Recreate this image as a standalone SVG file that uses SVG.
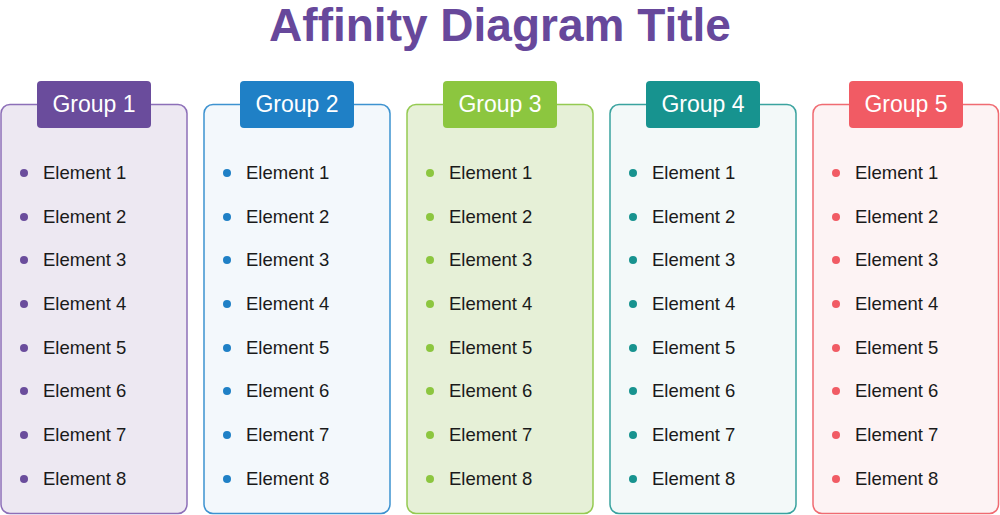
<svg xmlns="http://www.w3.org/2000/svg" width="1000" height="515" viewBox="0 0 1000 515">
<style>
.title{font-family:"Liberation Sans",Arial,sans-serif;font-weight:bold;font-size:46px;fill:#67489b;text-anchor:middle}
.gt{font-family:"Liberation Sans",Arial,sans-serif;font-size:23px;fill:#ffffff;text-anchor:middle}
.el{font-family:"Liberation Sans",Arial,sans-serif;font-size:18.5px;fill:#1a1a1a}
.panel{stroke-width:1.5}
</style>
<defs>
<g id="items">
<text class="el" x="42" y="179">Element 1</text>
<text class="el" x="42" y="223">Element 2</text>
<text class="el" x="42" y="266">Element 3</text>
<text class="el" x="42" y="310">Element 4</text>
<text class="el" x="42" y="354">Element 5</text>
<text class="el" x="42" y="397">Element 6</text>
<text class="el" x="42" y="441">Element 7</text>
<text class="el" x="42" y="485">Element 8</text>
</g>
<g id="dots">
<circle cx="23" cy="173" r="4"/>
<circle cx="23" cy="217" r="4"/>
<circle cx="23" cy="260" r="4"/>
<circle cx="23" cy="304" r="4"/>
<circle cx="23" cy="348" r="4"/>
<circle cx="23" cy="391" r="4"/>
<circle cx="23" cy="435" r="4"/>
<circle cx="23" cy="479" r="4"/>
</g>
</defs>
<rect width="1000" height="515" fill="#ffffff"/>
<text class="title" x="500" y="41">Affinity Diagram Title</text>

<g id="group1" transform="translate(1,0)">
<rect class="panel" x="0" y="104.5" width="186" height="409" rx="9" fill="#ede8f2" stroke="#8d6fb8"/>
<rect x="36" y="81" width="114" height="47" rx="4" fill="#6a4c9c"/>
<text class="gt" x="93" y="112">Group 1</text>
<use href="#dots" fill="#6a4c9c"/>
<use href="#items"/>
</g>
<g id="group2" transform="translate(204,0)">
<rect class="panel" x="0" y="104.5" width="186" height="409" rx="9" fill="#f3f8fc" stroke="#3d92d0"/>
<rect x="36" y="81" width="114" height="47" rx="4" fill="#1f80c6"/>
<text class="gt" x="93" y="112">Group 2</text>
<use href="#dots" fill="#1f80c6"/>
<use href="#items"/>
</g>
<g id="group3" transform="translate(407,0)">
<rect class="panel" x="0" y="104.5" width="186" height="409" rx="9" fill="#e6f0d7" stroke="#95ca52"/>
<rect x="36" y="81" width="114" height="47" rx="4" fill="#8cc63f"/>
<text class="gt" x="93" y="112">Group 3</text>
<use href="#dots" fill="#8cc63f"/>
<use href="#items"/>
</g>
<g id="group4" transform="translate(610,0)">
<rect class="panel" x="0" y="104.5" width="186" height="409" rx="9" fill="#f3f9f9" stroke="#3aa39f"/>
<rect x="36" y="81" width="114" height="47" rx="4" fill="#17938f"/>
<text class="gt" x="93" y="112">Group 4</text>
<use href="#dots" fill="#17938f"/>
<use href="#items"/>
</g>
<g id="group5" transform="translate(813,0)">
<rect class="panel" x="0" y="104.5" width="185.5" height="409" rx="9" fill="#fdf3f4" stroke="#f06b72"/>
<rect x="36" y="81" width="114" height="47" rx="4" fill="#f15b64"/>
<text class="gt" x="93" y="112">Group 5</text>
<use href="#dots" fill="#f15b64"/>
<use href="#items"/>
</g>
<g id="connectors"/>
</svg>
